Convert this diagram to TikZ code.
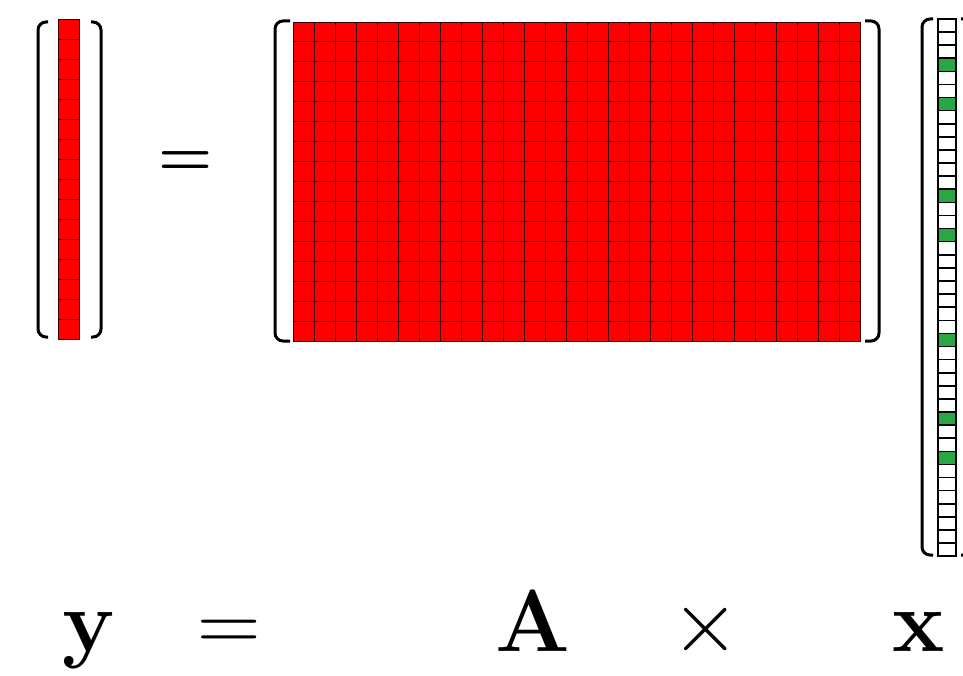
\documentclass[tikz,border=0pt]{standalone}
\usepackage{fix-cm}
\usepackage{tikz}
\definecolor{cellred}{RGB}{255,0,0}
\definecolor{cellgreen}{RGB}{40,167,69}
\definecolor{gridline}{RGB}{60,0,0}

\begin{document}
\begin{tikzpicture}[x=1pt,y=-1pt,
  redcell/.style={fill=cellred,draw=gridline,line width=0.9pt},
  xcell/.style={fill=white,draw=black,line width=1.6pt},
  greencell/.style={fill=cellgreen,draw=black,line width=1.6pt},
  bracket/.style={draw=black,line width=3pt,rounded corners=8pt},
  sym/.style={font=\fontsize{88}{100}\selectfont,anchor=base,inner sep=0pt}
]
\useasboundingbox (0,0) rectangle (963,676);
\clip (0,0) rectangle (963,676);

\foreach \i in {0,...,15}
  \draw[redcell] (58,{19+20*\i}) rectangle ++(21,20);

\foreach \i in {0,...,15}
  \foreach \j in {0,...,26}
    \draw[redcell] ({293+21*\j},{22+19.95*\i}) rectangle ++(21,19.95);

\foreach \i in {0,...,40}
  \draw[xcell] (938,{19+13.1*\i}) rectangle ++(18,13.1);
\foreach \i in {3,6,13,16,24,30,33}
  \draw[greencell] (938,{19+13.1*\i}) rectangle ++(18,13.1);

\draw[bracket] (48,22) -- (38,22) -- (38,337) -- (48,337);
\draw[bracket] (91,22) -- (101,22) -- (101,337) -- (91,337);
\draw[bracket] (290,21) -- (275,21) -- (275,341) -- (290,341);
\draw[bracket] (865,21) -- (879,21) -- (879,341) -- (865,341);
\draw[bracket] (933,19) -- (922,19) -- (922,555) -- (933,555);
\draw[bracket] (961,19) -- (972,19) -- (972,555) -- (961,555);

\node[font=\fontsize{62}{72}\selectfont\bfseries,inner sep=0pt] (eqtop) at (186,164) {=};

\node[sym] (ylab) at (89,651) {$\mathbf{y}$};
\node[sym] (eqbot) at (229,651) {$=$};
\node[sym] (alab) at (533,651) {$\mathbf{A}$};
\node[sym] (times) at (706,651) {$\times$};
\node[sym] (xlab) at (919,651) {$\mathbf{x}$};
\end{tikzpicture}
\end{document}
